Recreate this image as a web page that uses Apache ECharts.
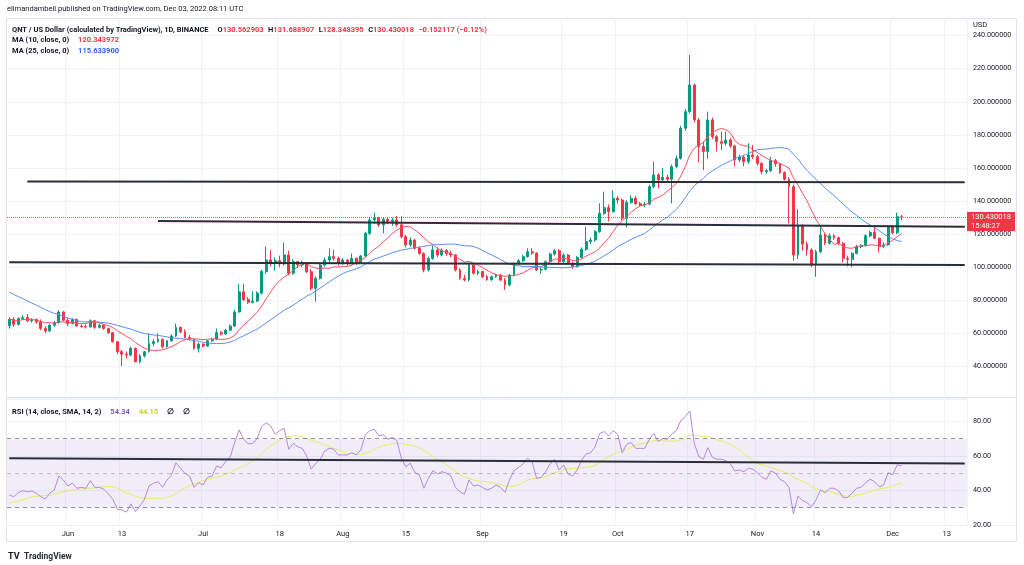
<!DOCTYPE html>
<html><head><meta charset="utf-8">
<script src="https://cdn.jsdelivr.net/npm/echarts@6/dist/echarts.min.js"></script>
<style>html,body{margin:0;padding:0;background:#fff}#c{width:1024px;height:565px}</style>
</head><body><div id="c"></div><script>
// ---------------- data ----------------
const startDate = [2022, 4, 19];   // 19 May 2022 (first candle)
const axisDays = 213;              // time scale runs on to 17 Dec 2022

const opens = [
 64.7,68.5,65.5,69,69.7,67.7,68.4,67,63,61.5,
 65,66.5,73,68,66,68.5,64.5,64.2,64,67.7,
 63.7,65,63,60.5,55,49,47.5,47,51,43,
 46.5,49,54,55,56.5,52,55.6,58.5,63.7,61,
 57.6,56.5,51,53.6,52.4,55.6,56.5,60.5,59.7,62,
 64.5,73,85.2,80.6,78.8,79.6,84.4,97.4,104.4,102.4,
 104,102,107.4,96.4,103.4,101.5,102.4,97.4,87.3,93.3,
 101.4,104.4,106.4,105.4,102.4,104.4,102.4,105.4,102.6,106.8,
 120.5,128.6,129.6,125.6,129,127.6,128.6,125.6,118.5,113.5,
 116.5,111.5,108.4,98.4,105.4,110.5,107.4,110.2,108.4,107.4,
 98.4,93.3,92.3,101.4,96.4,97.4,94.3,92.5,94.3,95.3,
 92.3,89.3,95.3,102.4,104,106.4,109.4,108.6,98.4,98.8,
 103.4,108,110,103.4,107.4,102.4,100.4,106,110.9,115.5,
 116.5,121.5,132.6,136,133.6,141.7,140.6,129.6,139.2,141.7,
 138.4,137.6,138.2,148.7,155.8,152.8,154.4,153.2,160.8,165.8,
 184,194,210.1,189,173,170,189,178.9,175.9,174.9,
 176.9,173.3,164.8,166.6,163.8,167.8,166.8,162.8,157.8,158.4,
 164.4,162.4,157.2,153.2,148.7,107.4,125,114,110.5,101.4,
 109.4,119.5,114.5,119,117.8,114.5,105.4,104.8,108.4,112.5,
 113.2,119,121,117.5,112.5,113.5,124.6,120.8,130.562903
];
const closes = [
 68.5,65.5,69,69.7,67.7,68.4,67,63,61.5,65,
 66.5,73,68,66,68.5,64.5,64.2,64,67.7,63.7,
 65,63,60.5,55,49,47.5,47,51,43,46.5,
 49,54,55,56.5,52,55.6,58.5,63.7,61,57.6,
 56.5,51,53.6,52.4,55.6,56.5,60.5,59.7,62,64.5,
 73,85.2,80.6,78.8,79.6,84.4,97.4,104.4,102.4,104,
 102,107.4,96.4,103.4,101.5,102.4,97.4,87.3,93.3,101.4,
 104.4,106.4,105.4,102.4,104.4,102.4,105.4,102.6,106.8,120.5,
 128.6,129.6,125.6,129,127.6,128.6,125.6,118.5,113.5,116.5,
 111.5,108.4,98.4,105.4,110.5,107.4,110.2,108.4,107.4,98.4,
 93.3,92.3,101.4,96.4,97.4,94.3,92.5,94.3,95.3,92.3,
 89.3,95.3,102.4,104,106.4,109.4,108.6,98.4,98.8,103.4,
 108,110,103.4,107.4,102.4,100.4,106,110.9,115.5,116.5,
 121.5,132.6,136,133.6,141.7,140.6,129.6,139.2,141.7,138.4,
 137.6,138.2,148.7,155.8,152.8,154.4,153.2,160.8,165.8,184,
 194,210.1,189,173,170,189,178.9,175.9,174.9,176.9,
 173.3,164.8,166.6,163.8,167.8,166.8,162.8,157.8,158.4,164.4,
 162.4,157.2,153.2,148.7,107.4,125,114,110.5,101.4,109.4,
 119.5,114.5,119,117.8,114.5,105.4,104.8,108.4,112.5,113.2,
 119,121,117.5,112.5,113.5,124.6,120.8,130.56,130.430018
];
const highs = [
 69.7,70,69.8,71,71.7,69.3,69,68.5,64.5,65.8,
 67.5,74,73.5,69.5,69.2,69,65.5,65.5,68.5,68,
 66,65.5,63.5,61,55.5,50,49.2,52,51.5,47.5,
 49.5,60,56.5,60,57,56.2,59.5,66,64.2,62.5,
 59,57,54.5,54,56,57.5,63,61.5,62.8,65.5,
 74.5,89.9,90.2,82,85.5,85.5,98.5,112.5,110.5,106,
 107,115,110,105,104,104,103,99,94.5,102,
 106,111.5,110.5,106.5,105.5,105,108.4,106,107.5,121.5,
 130.5,133,130.5,130.2,130,130,131,131,119.5,118,
 117,112.5,109,106.5,113,112,111.5,111,110,108,
 99.5,95.5,102.5,102,98.5,98,95.5,95,96.2,96,
 93.5,96,103,105,107.5,111.5,111.5,109.2,100,104.2,
 108.8,111,111,108.5,108,103.5,106.8,112,124.5,118,
 122.5,138.6,145.7,138,146.5,143,141.5,140.5,143.5,143,
 139.5,139.5,150,163.8,157,160,156,162,167.5,185.5,
 195.5,228.3,211,190,176,194,190.5,180,182,182,
 178,174,168,168,174.9,173.9,168,163.5,159.5,166.8,
 165.5,163,158,154.5,150,135,126,115.5,111.5,110.5,
 125,120.5,120.5,120,118.5,115.2,107,109.2,113.5,114,
 120,122,124.5,118,115,125.5,125.5,133,131.688907
];
const lows = [
 62.9,64,64.8,68,67,66.5,66,62,60.2,61,
 64,66,67.5,64.5,65.5,64,63.5,63,63.5,62.8,
 63,62.3,59.8,54.5,47.5,40.3,45,46.3,42.5,42,
 45.5,48.5,52.5,54.5,51,51.5,55,58,60.2,57,
 55.8,50.2,48.5,51.5,52,55,56,58.8,59.2,61.5,
 64,72.5,79.5,77.8,78.2,79,83.5,96,100.5,98,
 100,101,95,95.5,99.5,100,96.5,86,79.2,92.5,
 100.5,103,104,101,101.5,101,101.8,101.5,102,106,
 119.5,126,124.5,120.5,126,125,124.5,117.5,112,112.5,
 110.5,107.5,97,97.5,104.5,106,106.5,107,106,97.5,
 92.5,91.5,91.5,95.5,95.3,93.5,91.8,91.8,93.5,91.5,
 86.3,88.5,94.5,101.5,103.2,105.8,107.5,97.8,96,98,
 102.8,107,102.5,102.8,101.6,99,99.8,105.2,110,114,
 115.5,120.8,131.5,127.6,133,138.5,128.2,124,138.4,137.5,
 136.5,136.4,137.4,147.8,147.7,152,151.8,138.6,159.8,165,
 182.5,193,187.5,163.5,158.8,165.5,177.5,170,170.9,173.5,
 172.2,161,163.5,161,162.5,165.5,161.5,156,156.5,157.6,
 160.8,156.5,152.5,126.5,104,105,110,107,100,94.3,
 108.4,113.5,113.8,116.5,113.5,103,100.5,100,107.8,111.5,
 112.8,118.2,117,109,111.5,113,119.8,120,128.348395
];
// closes of the 24 days before the first visible candle (feed the moving averages)
const priorCloses = [103,101,99,104,100,98,97,95,96,94,92,93,90,88,86,78,70,62,66,70,72,69,70,65];

const rsiValues = [
 37.4,36.4,38.7,39.9,39.3,39.7,38.4,36.4,35.1,38.4,
 40.3,48.4,46.1,42.6,44.2,41.3,41.8,41.3,45.7,41.8,
 41.8,40.7,38,34.9,29.1,28.7,27.5,32.2,27.7,31,
 34.9,42.6,44.2,45.1,41.8,46.1,49,56.1,52.8,49.9,
 48.4,41.8,44.5,43.2,47.6,48.4,54.2,53.2,56.7,59.2,
 67.7,75.1,69.7,67,67.3,70.2,77,79.3,77.4,72.6,
 74.7,76,63.9,67.3,65.4,64.4,60,52.3,55.7,58.1,
 63,64.4,63.9,60.6,60.6,60.6,61.9,60.6,63.5,72.2,
 74.7,75.5,71.8,72.2,69.7,70.8,68.9,58.6,53.8,55.8,
 50.3,49,41.3,47,51.5,49.6,50.9,50,48.4,41.8,
 39.3,37.8,46.1,42.6,43.2,41.8,40.3,41.3,43.2,41.8,
 38.9,46.1,51.5,53.4,55.4,58.6,56.7,47,47.6,50.9,
 55.4,58.1,51.9,54.8,49.6,48.4,51.9,57.7,61.2,61.9,
 65.4,73.1,74.1,71.6,74.7,72.5,61.9,66.9,67.7,64.4,
 64.4,64.4,69.7,73.1,68.3,70.2,69.7,72.7,74.7,80.5,
 82.8,86.1,67.3,59.6,58.1,64.8,59.2,58.1,58.1,57.3,
 55.4,51.3,51.9,50.9,52.9,52.3,50.3,47.6,46.5,51.5,
 50,46.5,45.1,41.8,26.4,36.8,34.1,33,30.6,34.5,
 40.3,38.8,41.3,41.3,39.9,36,36,38.4,41.3,41.8,
 44.5,46.5,45.1,42.2,43.2,50.3,49,54.8,54.34
];
// RSI of the 13 days before the first candle (feed the RSI moving average)
const rsiPrior = [27,31,29,26,30,33,31,34,36,33,37,35,37];

const timeTicks = ['2022-06-01','2022-06-13','2022-07-01','2022-07-18','2022-08-01','2022-08-15',
  '2022-09-01','2022-09-19','2022-10-01','2022-10-17','2022-11-01','2022-11-14','2022-12-01','2022-12-13'];
const monthNames = ['Jan','Feb','Mar','Apr','May','Jun','Jul','Aug','Sep','Oct','Nov','Dec'];

// drawn horizontal levels: [start date, start value, end date, end value]
const priceLevels = [
  ['2022-05-23', 151.8, '2022-12-17', 151.3],
  ['2022-06-21', 128.0, '2022-12-17', 124.5],
  ['2022-05-19', 103.1, '2022-12-17', 101.4]
];
const rsiLevels = [['2022-05-19', 58.7, '2022-12-17', 55.7]];
const rsiBands = [70, 50, 30];

const lastPrice = 130.430018;
const lastPriceText = '130.430018';
const countdownText = '15:48:27';
const legendChange = '\u22120.152117 (\u22120.12%)';
const legendMA10 = '120.343972';
const legendMA25 = '115.633900';
const legendRSI = '54.34';
const legendRSIMA = '44.15';

// ---------------- derived ----------------
const dates = [];
{ const t0 = Date.UTC(startDate[0], startDate[1], startDate[2]);
  for (let i = 0; i < axisDays; i++) dates.push(new Date(t0 + i * 86400000).toISOString().slice(0, 10)); }
const candleData = closes.map((c, i) => [opens[i], c, lows[i], highs[i]]);
function movingAverage(n) {
  const all = priorCloses.concat(closes);
  return closes.map((_, i) => {
    const j = i + priorCloses.length; let s = 0;
    for (let k = j - n + 1; k <= j; k++) s += all[k];
    return +(s / n).toFixed(4);
  });
}
const ma10 = movingAverage(10), ma25 = movingAverage(25);
const rsiAll = rsiPrior.concat(rsiValues);
const rsiMA = rsiValues.map((_, i) => {
  const j = i + rsiPrior.length; let s = 0;
  for (let k = j - 13; k <= j; k++) s += rsiAll[k];
  return +(s / 14).toFixed(3);
});
const last = closes.length - 1;

// ---------------- chart ----------------
const FF = 'Roboto, "Noto Sans", sans-serif';
const TXT = '#131722';
const GRID = '#f0f3fa';
const UP = '#089981', DOWN = '#f23645';
const isTick = (i, v) => timeTicks.indexOf(v) >= 0;
const fmtDate = v => { const p = v.split('-'); return p[2] === '01' ? monthNames[+p[1] - 1] : String(+p[2]); };
const levelLines = arr => arr.map(l => [{ coord: [l[0], l[1]] }, { coord: [l[2], l[3]] }]);

const chart = echarts.init(document.getElementById('c'), null, { renderer: 'canvas' });
const hdr = (s) => ({ fontSize: 7.5, color: s, fontFamily: FF });
chart.setOption({
  animation: false,
  backgroundColor: '#ffffff',
  textStyle: { fontFamily: FF },
  title: [
    { text: 'elimandambell published on TradingView.com, Dec 03, 2022 08:11 UTC', left: 7, top: 5, padding: 0,
      textStyle: { fontSize: 7.5, fontWeight: 'normal', color: TXT, fontFamily: FF } },
    { text: '{t|QNT / US Dollar (calculated by TradingView), 1D, BINANCE}  {t|O}{v|' + opens[last].toFixed(6) +
        '} {t|H}{v|' + highs[last].toFixed(6) + '} {t|L}{v|' + lows[last].toFixed(6) + '} {t|C}{v|' +
        closes[last].toFixed(6) + '} {v|' + legendChange + '}',
      left: 12, top: 21, padding: 0, textStyle: { rich: { t: hdr(TXT), v: hdr(DOWN) } } },
    { text: '{t|MA (10, close, 0)}  {v|' + legendMA10 + '}', left: 12, top: 31.5, padding: 0,
      textStyle: { rich: { t: hdr(TXT), v: hdr(DOWN) } } },
    { text: '{t|MA (25, close, 0)}  {v|' + legendMA25 + '}', left: 12, top: 42.5, padding: 0,
      textStyle: { rich: { t: hdr(TXT), v: hdr('#2962ff') } } },
    { text: '{t|RSI (14, close, SMA, 14, 2)}  {p|' + legendRSI + '}  {y|' + legendRSIMA + '}  {t|\u2205}  {t|\u2205}',
      left: 12, top: 403, padding: 0, textStyle: { rich: { t: hdr(TXT), p: hdr('#7e57c2'), y: hdr('#c5d43a') } } },
    { text: 'USD', left: 973, top: 21, padding: 0, textStyle: { fontSize: 7.5, fontWeight: 'normal', color: TXT, fontFamily: FF } },
    { text: '{l|TV} {t|TradingView}', left: 8, top: 548, padding: 0,
      textStyle: { rich: { l: { fontSize: 9, fontWeight: 'bold', color: TXT, fontFamily: FF }, t: { fontSize: 8.5, color: '#2a2e39', fontFamily: FF } } } }
  ],
  grid: [
    { left: 7, right: 57, top: 18, bottom: 165.3 },
    { left: 7, right: 57, top: 398, bottom: 40 }
  ],
  xAxis: [
    { type: 'category', gridIndex: 0, data: dates, boundaryGap: true,
      axisLine: { show: false }, axisTick: { show: false }, axisLabel: { show: false },
      splitLine: { show: true, interval: isTick, lineStyle: { color: GRID, width: 1 } } },
    { type: 'category', gridIndex: 1, data: dates, boundaryGap: true,
      axisLine: { show: false }, axisTick: { show: false },
      axisLabel: { show: true, interval: isTick, formatter: fmtDate, color: TXT, fontSize: 7.5, margin: 5, fontFamily: FF },
      splitLine: { show: true, interval: isTick, lineStyle: { color: GRID, width: 1 } } }
  ],
  yAxis: [
    { type: 'value', gridIndex: 0, position: 'right', min: 20, max: 250.6, interval: 20, scale: true,
      axisLine: { show: false }, axisTick: { show: false },
      axisLabel: { showMinLabel: false, showMaxLabel: false, formatter: v => v.toFixed(6), color: TXT, fontSize: 7.2, margin: 6, fontFamily: FF },
      splitLine: { lineStyle: { color: GRID, width: 1 } } },
    { type: 'value', gridIndex: 1, position: 'right', min: 20, max: 93.6, interval: 20,
      axisLine: { show: false }, axisTick: { show: false },
      axisLabel: { showMinLabel: true, showMaxLabel: false, formatter: v => v.toFixed(2), color: TXT, fontSize: 7.2, margin: 6, fontFamily: FF },
      splitLine: { lineStyle: { color: GRID, width: 1 } } }
  ],
  series: [
    { type: 'candlestick', xAxisIndex: 0, yAxisIndex: 0, data: candleData, barWidth: 2.4,
      itemStyle: { color: UP, color0: DOWN, borderColor: UP, borderColor0: DOWN, borderWidth: 1 },
      markLine: { silent: true, symbol: ['none', 'none'], animation: false,
        data: [
          { yAxis: lastPrice, label: { show: false }, lineStyle: { type: 'dotted', color: DOWN, width: 1, opacity: 0.8 } }
        ].concat(levelLines(priceLevels).map(d => { d[0].lineStyle = { color: '#2a2e39', width: 2, type: 'solid' }; d[0].label = { show: false }; return d; }))
      } },
    { type: 'line', name: 'MA10', xAxisIndex: 0, yAxisIndex: 0, data: ma10, showSymbol: false, symbol: 'none',
      lineStyle: { color: '#f7525f', width: 1 }, z: 3 },
    { type: 'line', name: 'MA25', xAxisIndex: 0, yAxisIndex: 0, data: ma25, showSymbol: false, symbol: 'none',
      lineStyle: { color: '#5b8cf5', width: 1 }, z: 3 },
    { type: 'line', name: 'RSI', xAxisIndex: 1, yAxisIndex: 1, data: rsiValues, showSymbol: false, symbol: 'none',
      lineStyle: { color: '#b388e0', width: 1 }, z: 3,
      markArea: { silent: true, itemStyle: { color: 'rgba(126,87,194,0.1)' }, data: [[{ yAxis: 30 }, { yAxis: 70 }]] },
      markLine: { silent: true, symbol: ['none', 'none'], animation: false,
        data: rsiBands.map(b => ({ yAxis: b, label: { show: false },
          lineStyle: { type: [4, 4], color: '#787b86', width: 1, opacity: b === 50 ? 0.45 : 0.8 } }))
          .concat(levelLines(rsiLevels).map(d => { d[0].lineStyle = { color: '#2a2e39', width: 2, type: 'solid' }; d[0].label = { show: false }; return d; }))
      } },
    { type: 'line', name: 'RSI MA', xAxisIndex: 1, yAxisIndex: 1, data: rsiMA, showSymbol: false, symbol: 'none',
      lineStyle: { color: '#e4ee63', width: 1 }, z: 2 }
  ]
});

// frame, pane separators and the last-price tag placed through the price scale
const py = chart.convertToPixel({ yAxisIndex: 0 }, lastPrice);
chart.setOption({
  graphic: [
    { type: 'rect', silent: true, shape: { x: 6.5, y: 18.5, width: 1010, height: 523 }, style: { fill: 'none', stroke: '#e0e3eb', lineWidth: 1 } },
    { type: 'line', silent: true, shape: { x1: 6.5, y1: 397.5, x2: 1016.5, y2: 397.5 }, style: { stroke: '#e0e3eb', lineWidth: 1 } },
    { type: 'line', silent: true, shape: { x1: 6.5, y1: 525.5, x2: 1016.5, y2: 525.5 }, style: { stroke: '#eef0f5', lineWidth: 1 } },
    { type: 'group', x: 967, y: py - 5, children: [
      { type: 'rect', shape: { x: 0, y: 0, width: 48, height: 19 }, style: { fill: DOWN } },
      { type: 'text', x: 4, y: 4.8, style: { text: lastPriceText, fill: '#fff', fontSize: 7.5, fontFamily: FF, textVerticalAlign: 'middle', verticalAlign: 'middle' } },
      { type: 'text', x: 4, y: 13.8, style: { text: countdownText, fill: '#fff', fontSize: 7.5, fontFamily: FF, textVerticalAlign: 'middle', verticalAlign: 'middle' } }
    ] }
  ]
});
</script></body></html>
